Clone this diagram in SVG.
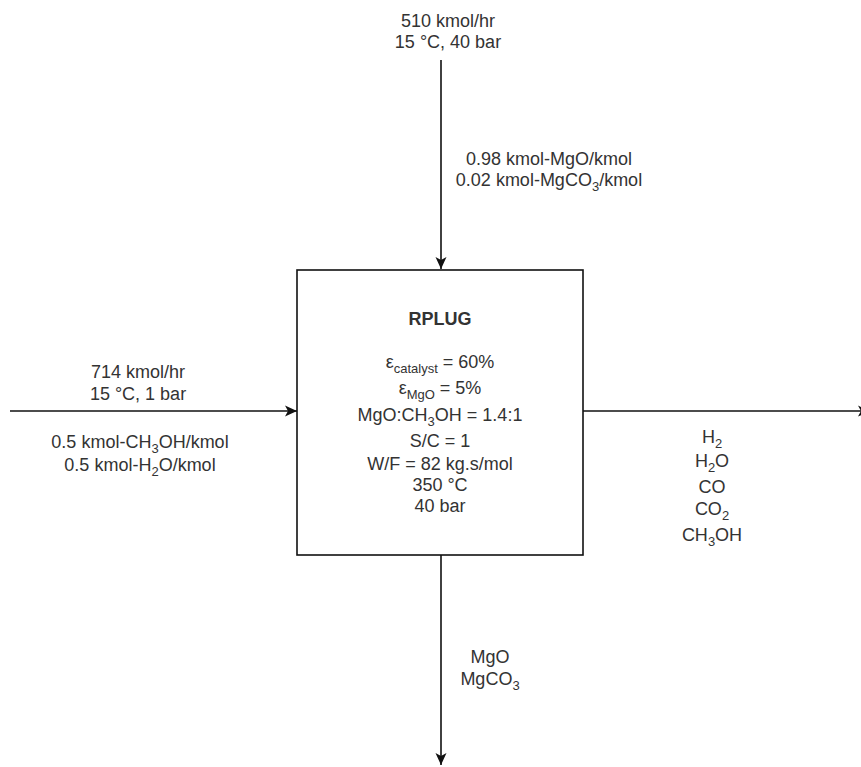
<svg xmlns="http://www.w3.org/2000/svg" width="861" height="767" viewBox="0 0 861 767">
  <defs>
    <marker id="arrow" markerUnits="userSpaceOnUse" markerWidth="14" markerHeight="12" refX="12" refY="6" orient="auto">
      <path d="M0,0.5 L12,6 L0,11.5 L3,6 Z" fill="#111"/>
    </marker>
    <style>
      .flow { stroke: #111; stroke-width: 1.6; fill: none; marker-end: url(#arrow); }
      .box { fill: #fff; stroke: #111; stroke-width: 1.6; }
      text { font-family: "Liberation Sans", Arial, Helvetica, sans-serif; font-size: 18px; fill: #333; text-anchor: middle; }
      .title { font-weight: bold; }
      .sub { font-size: 13px; }
    </style>
  </defs>
  <rect width="861" height="767" fill="#fff"/>

  <!-- stream connectors -->
  <g id="connectors">
    <line class="flow" x1="441" y1="60" x2="441" y2="269"/>
    <line class="flow" x1="10" y1="411" x2="297" y2="411"/>
    <line class="flow" x1="583" y1="411" x2="870" y2="411"/>
    <line class="flow" x1="441" y1="555" x2="441" y2="765"/>
  </g>

  <!-- reactor block -->
  <g id="rplug">
    <rect class="box" x="297" y="270" width="286" height="285"/>
    <text class="title" x="440" y="325">RPLUG</text>
    <text x="440" y="368">ε<tspan class="sub" dy="5">catalyst</tspan><tspan dy="-5"> = 60%</tspan></text>
    <text x="440" y="394">ε<tspan class="sub" dy="5">MgO</tspan><tspan dy="-5"> = 5%</tspan></text>
    <text x="440" y="421">MgO:CH<tspan class="sub" dy="5">3</tspan><tspan dy="-5">OH = 1.4:1</tspan></text>
    <text x="440" y="447">S/C = 1</text>
    <text x="440" y="470">W/F = 82 kg.s/mol</text>
    <text x="440" y="491">350 °C</text>
    <text x="440" y="512">40 bar</text>
  </g>

  <!-- solids feed (top) -->
  <g id="solid-feed">
    <text x="448" y="27">510 kmol/hr</text>
    <text x="448" y="48">15 °C, 40 bar</text>
    <text x="549" y="165">0.98 kmol-MgO/kmol</text>
    <text x="549" y="186">0.02 kmol-MgCO<tspan class="sub" dy="5">3</tspan><tspan dy="-5">/kmol</tspan></text>
  </g>

  <!-- methanol/water feed (left) -->
  <g id="liquid-feed">
    <text x="138" y="378">714 kmol/hr</text>
    <text x="138" y="400">15 °C, 1 bar</text>
    <text x="140" y="448">0.5 kmol-CH<tspan class="sub" dy="5">3</tspan><tspan dy="-5">OH/kmol</tspan></text>
    <text x="140" y="471">0.5 kmol-H<tspan class="sub" dy="5">2</tspan><tspan dy="-5">O/kmol</tspan></text>
  </g>

  <!-- gas product (right) -->
  <g id="gas-product">
    <text x="712" y="443">H<tspan class="sub" dy="5">2</tspan></text>
    <text x="712" y="467">H<tspan class="sub" dy="5">2</tspan><tspan dy="-5">O</tspan></text>
    <text x="712" y="493">CO</text>
    <text x="712" y="515">CO<tspan class="sub" dy="5">2</tspan></text>
    <text x="712" y="541">CH<tspan class="sub" dy="5">3</tspan><tspan dy="-5">OH</tspan></text>
  </g>

  <!-- solids product (bottom) -->
  <g id="solid-product">
    <text x="490" y="663">MgO</text>
    <text x="490" y="685">MgCO<tspan class="sub" dy="5">3</tspan></text>
  </g>
</svg>
